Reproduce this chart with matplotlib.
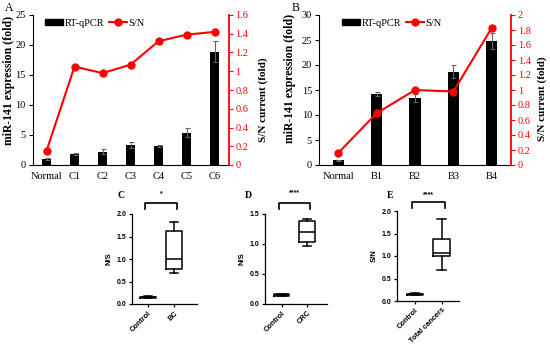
import numpy as np
import matplotlib.pyplot as plt
from matplotlib.lines import Line2D
from matplotlib.patches import Patch
from matplotlib.ticker import FuncFormatter

# Panel A data
a_groups = ['Normal', 'C1', 'C2', 'C3', 'C4', 'C5', 'C6']
a_qpcr = [1.0, 1.9, 2.2, 3.3, 3.2, 5.4, 18.9]
a_err = [0.1, 0.15, 0.4, 0.5, 0.15, 0.8, 1.7]
a_sn = [0.15, 1.05, 0.98, 1.07, 1.32, 1.39, 1.42]

# Panel B data
b_groups = ['Normal', 'B1', 'B2', 'B3', 'B4']
b_qpcr = [1.0, 14.3, 13.5, 18.7, 24.8]
b_err = [0.1, 0.4, 0.8, 1.3, 1.6]
b_sn = [0.16, 0.69, 1.0, 0.98, 1.83]

# Box plots: whisker low, q1, median, q3, whisker high
c_labels = ['Control', 'BC']
c_control = [0.13, 0.14, 0.15, 0.16, 0.17]
c_cancer = [0.70, 0.78, 0.99, 1.62, 1.83]

d_labels = ['Control', 'CRC']
d_control = [0.13, 0.14, 0.15, 0.16, 0.17]
d_cancer = [0.97, 1.04, 1.20, 1.39, 1.42]

e_labels = ['Control', 'Total cancers']
e_control = [0.13, 0.14, 0.15, 0.16, 0.17]
e_cancer = [0.70, 0.99, 1.06, 1.38, 1.83]

W, H = 550, 344
fig = plt.figure(figsize=(W / 100, H / 100), dpi=100)

SERIF = 'Liberation Serif'
SANS = 'Liberation Sans'


def px_axes(left, top, right, bottom):
    return fig.add_axes([left / W, 1 - bottom / H, (right - left) / W, (bottom - top) / H])


def bar_panel(ax, groups, vals, errs, sn, ymax, ystep, rmax, rstep, width, leg_x,
              left_lab, right_lab):
    x = np.arange(len(groups))
    ax.bar(x, vals, width=width, color='black', yerr=errs,
           error_kw=dict(ecolor='0.4', elinewidth=0.8, capsize=1.8, capthick=0.8))
    ax.set_xlim(-0.5, len(groups) - 0.5)
    ax.set_ylim(0, ymax)
    ax.set_yticks(np.arange(0, ymax + 0.01, ystep))
    ax.set_xticks(x)
    ax.set_xticklabels(groups, fontfamily=SERIF, fontsize=7.5)
    for lab in ax.get_yticklabels():
        lab.set_fontfamily(SERIF)
        lab.set_fontsize(7.5)
    ax.tick_params(axis='x', length=0, pad=5)
    ax.tick_params(axis='y', length=3, width=0.8, pad=2)
    ax.spines['top'].set_visible(False)
    ax.spines['right'].set_visible(False)

    ax2 = ax.twinx()
    ax2.plot(x, sn, color='red', marker='o', ms=5, lw=1.5)
    ax2.set_ylim(0, rmax)
    ax2.set_yticks(np.arange(0, rmax + 0.001, rstep))
    ax2.yaxis.set_major_formatter(FuncFormatter(lambda v, p: f'{v:g}'))
    for lab in ax2.get_yticklabels():
        lab.set_fontfamily(SERIF)
        lab.set_fontsize(7.5)
    ax2.tick_params(axis='y', colors='red', length=3, width=0.8, pad=2)
    ax2.spines['right'].set_color('red')
    ax2.spines['right'].set_linewidth(1.3)
    for s in ['top', 'left', 'bottom']:
        ax2.spines[s].set_visible(False)

    # axis titles placed at their pixel positions
    fig.text(left_lab[0] / W, 1 - left_lab[1] / H, 'miR-141 expression (fold)',
             rotation=90, ha='center', va='center', fontfamily=SERIF,
             fontweight='bold', fontsize=8.5)
    fig.text(right_lab[0] / W, 1 - right_lab[1] / H, 'S/N current (fold)',
             rotation=90, ha='center', va='center', fontfamily=SERIF,
             fontweight='bold', fontsize=8)

    handles = [Patch(color='black'),
               Line2D([], [], color='red', marker='o', ms=5, lw=1.5)]
    ax2.legend(handles, ['RT-qPCR', 'S/N'], loc='upper left', bbox_to_anchor=(leg_x, 0.975),
               ncol=2, frameon=False, prop={'family': SERIF, 'size': 7.5},
               handlelength=1.7, handleheight=0.5, handletextpad=0.15,
               columnspacing=0.5, borderaxespad=0, borderpad=0)


def box_panel(ax, labels, control, cancer, ymax, ystep, ylabel, stars, bracket, xlim):
    stats = []
    for lab, s in zip(labels, [control, cancer]):
        stats.append(dict(label=lab, whislo=s[0], q1=s[1], med=s[2], q3=s[3], whishi=s[4]))
    lp = dict(color='black', linewidth=1.1)
    ax.bxp(stats, positions=[1, 2], widths=0.62, capwidths=0.31, showfliers=False,
           boxprops=lp, whiskerprops=lp, capprops=lp, medianprops=lp)
    ax.set_xlim(*xlim)
    ax.set_ylim(0, ymax)
    ax.set_yticks(np.arange(0, ymax + 0.001, ystep))
    ax.yaxis.set_major_formatter(FuncFormatter(lambda v, p: f'{v:.1f}'))
    for lab in ax.get_yticklabels():
        lab.set_fontfamily(SANS)
        lab.set_fontweight('bold')
        lab.set_fontsize(5)
    ax.set_xticks([1, 2])
    ax.set_xticklabels(labels, rotation=45, ha='right', rotation_mode='anchor',
                       fontfamily=SANS, fontweight='bold', fontsize=5.3)
    ax.tick_params(length=2.5, width=0.9, pad=1.5)
    ax.spines['top'].set_visible(False)
    ax.spines['right'].set_visible(False)
    ax.spines['left'].set_linewidth(0.9)
    ax.spines['bottom'].set_linewidth(0.9)
    ax.set_ylabel(ylabel, fontfamily=SANS, fontweight='bold', fontsize=5.5, labelpad=3)
    top, low, star_y = bracket
    ax.plot([0.88, 0.88, 2.12, 2.12], [low, top, top, low], color='black', lw=1.2,
            clip_on=False)
    ax.text(1.5, star_y, stars, ha='center', va='center', fontfamily=SANS,
            fontweight='bold', fontsize=5)


ax_a = px_axes(32.5, 15, 228.5, 165)
bar_panel(ax_a, a_groups, a_qpcr, a_err, a_sn, 25, 5, 1.6, 0.2, 0.32, 0.064,
          (9, 80), (263, 100))

ax_b = px_axes(319, 15, 511, 165)
bar_panel(ax_b, b_groups, b_qpcr, b_err, b_sn, 30, 5, 2.0, 0.2, 0.29, 0.12,
          (290, 78), (542, 99))

ax_c = px_axes(132, 214, 197, 304)
box_panel(ax_c, c_labels, c_control, c_cancer, 2.0, 0.5, 'N/S', '*',
          (2.25, 2.11, 2.44), (0.39, 2.88))

ax_d = px_axes(265, 214, 327, 304)
box_panel(ax_d, d_labels, d_control, d_cancer, 1.5, 0.5, 'N/S', '****',
          (1.69, 1.58, 1.85), (0.35, 2.78))

ax_e = px_axes(397, 211, 459, 301)
box_panel(ax_e, e_labels, e_control, e_cancer, 2.0, 0.5, 'S/N', '****',
          (2.19, 2.07, 2.36), (0.33, 2.65))

# panel letters
fig.text(5 / W, 1 - 8 / H, 'A', fontfamily=SERIF, fontsize=8.5, va='center')
fig.text(292 / W, 1 - 8 / H, 'B', fontfamily=SERIF, fontsize=8.5, va='center')
fig.text(117 / W, 1 - 195 / H, 'C', fontfamily=SERIF, fontweight='bold', fontsize=7, va='center')
fig.text(245 / W, 1 - 195 / H, 'D', fontfamily=SERIF, fontweight='bold', fontsize=7, va='center')
fig.text(387 / W, 1 - 195 / H, 'E', fontfamily=SERIF, fontweight='bold', fontsize=7, va='center')

fig.savefig('out.png', dpi=100)
